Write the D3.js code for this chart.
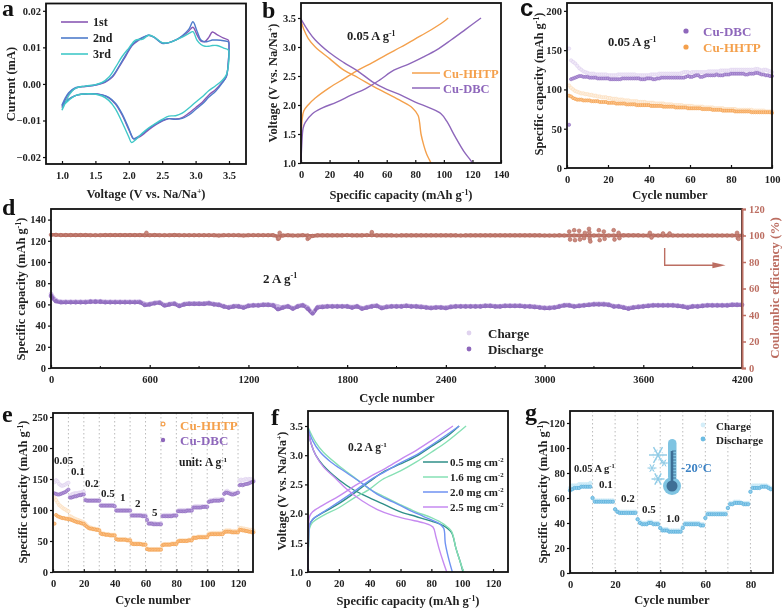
<!DOCTYPE html>
<html><head><meta charset="utf-8">
<script src="https://cdn.jsdelivr.net/npm/d3@7"></script>
<style>
html,body{margin:0;padding:0;background:#fff}
svg{display:block;filter:blur(0.45px)}
text{font-family:"Liberation Serif",serif;font-weight:bold;fill:#222}
</style></head><body><svg id="c" width="783" height="609"></svg>
<script>
// ---------- panel a: cyclic voltammetry ----------
const cvVolt1=[1,1.05,1.1,1.2,1.35,1.5,1.65,1.75,1.85,1.95,2.05,2.15,2.25,2.3,2.38,2.5,2.6,2.7,2.8,2.9,2.96,3.02,3.08,3.14,3.2,3.25,3.32,3.42,3.49,3.5,3.49,3.46,3.4,3.3,3.2,3.1,3,2.9,2.8,2.7,2.6,2.5,2.4,2.3,2.2,2.1,2.07,2,1.9,1.8,1.7,1.6,1.4,1.2,1.1,1.03,1];
const cvCur1=[-.006,-.0043,-.0028,-.0012,-.0007,-.0003,.0005,.0018,.0045,.0075,.0105,.012,.013,.0133,.0128,.0112,.0113,.012,.013,.0145,.0155,.0135,.0117,.0116,.0128,.0142,.0135,.0125,.012,.01,.006,.002,.0005,-.0015,-.003,-.005,-.0065,-.008,-.0092,-.0096,-.0095,-.0102,-.0112,-.0125,-.014,-.015,-.015,-.0125,-.0085,-.0055,-.0038,-.003,-.0027,-.0032,-.0042,-.0055,-.0065];
const cvVolt2=[1,1.05,1.1,1.2,1.35,1.5,1.65,1.75,1.85,1.95,2.05,2.15,2.25,2.3,2.38,2.5,2.6,2.7,2.8,2.9,2.96,3.02,3.08,3.14,3.2,3.25,3.32,3.42,3.49,3.5,3.49,3.46,3.4,3.3,3.2,3.1,3,2.9,2.8,2.7,2.6,2.5,2.4,2.3,2.2,2.1,2.07,2,1.9,1.8,1.7,1.6,1.4,1.2,1.1,1.03,1];
const cvCur2=[-.0058,-.0038,-.0024,-.001,-.0006,-.0003,.0006,.002,.0047,.0078,.0107,.0122,.0131,.0133,.0127,.0111,.0113,.012,.0132,.015,.017,.0145,.012,.0115,.0117,.012,.012,.0118,.0115,.0095,.006,.002,.0003,-.002,-.0036,-.0055,-.007,-.0085,-.0094,-.0097,-.0095,-.01,-.011,-.0122,-.0137,-.0148,-.015,-.0122,-.0082,-.0053,-.0037,-.003,-.0027,-.0032,-.0042,-.0052,-.0062];
const cvVolt3=[1,1.05,1.1,1.2,1.35,1.5,1.6,1.7,1.8,1.9,2,2.1,2.2,2.3,2.38,2.5,2.6,2.7,2.8,2.9,2.96,3.02,3.08,3.14,3.2,3.25,3.32,3.42,3.49,3.5,3.49,3.46,3.4,3.3,3.2,3.1,3,2.9,2.8,2.7,2.6,2.5,2.4,2.3,2.2,2.1,2.04,2,1.9,1.8,1.7,1.6,1.4,1.2,1.1,1.03,1];
const cvCur3=[-.0072,-.0052,-.0032,-.0012,-.0006,-.0002,.0004,.0018,.0045,.0075,.0098,.012,.0122,.0133,.0128,.0113,.0113,.012,.0128,.0138,.0143,.012,.0108,.0103,.0103,.0105,.0105,.0098,.0093,.0085,.005,.0025,.001,-.0005,-.0018,-.0035,-.005,-.0066,-.008,-.0087,-.0088,-.0097,-.0108,-.012,-.0135,-.0153,-.016,-.0145,-.0105,-.0068,-.0045,-.0033,-.0027,-.0032,-.0045,-.0058,-.0072];
// ---------- panel b: charge/discharge ----------
const hhtpChgQ=[0,.3,.8,2,5,10,20,30,40,50,60,70,80,90,100,103];
const hhtpChgV=[1,1.5,1.75,1.9,2,2.12,2.3,2.45,2.6,2.73,2.87,3,3.14,3.28,3.44,3.5];
const hhtpDisQ=[0,2,5,10,20,30,40,50,60,70,78,82,83,84,86,88,90,91];
const hhtpDisV=[3.45,3.3,3.15,3,2.8,2.6,2.47,2.33,2.2,2.07,1.95,1.82,1.7,1.5,1.3,1.15,1.05,1];
const dbcChgQ=[0,.5,1.5,3,8,15,25,35,45,55,65,75,85,95,105,115,126];
const dbcChgV=[1,1.3,1.6,1.7,1.85,1.95,2.05,2.17,2.28,2.43,2.6,2.7,2.82,2.95,3.12,3.3,3.5];
const dbcDisQ=[0,5,10,20,30,40,50,60,70,80,90,98,102,108,114,118,120];
const dbcDisV=[3.48,3.28,3.12,2.9,2.73,2.58,2.4,2.27,2.17,2.05,1.95,1.85,1.72,1.45,1.2,1.07,1];
// ---------- panel c: cycling at 0.05 A/g (cycles 1..100) ----------
const cDbcCharge=[152,137,135,133,130,127,125,123,122,121,120,120,120,119,119,119,119,119,119,118,118,118,118,118,119,119,119,119,119,119,119,119,119,118,118,118,118,118,118,118,119,119,119,119,120,120,120,120,120,120,120,120,120,120,120,121,122,122,122,121,122,122,122,122,122,122,122,122,123,123,123,123,123,123,124,124,124,124,124,125,125,125,125,125,125,125,125,125,125,125,125,126,126,125,124,125,125,124,123,122];
const cDbcDischarge=[55,113,114,115,116,117,117,116,116,116,115,115,115,115,114,114,114,114,114,114,113,113,113,113,113,113,114,114,114,114,114,114,114,114,114,113,113,113,114,114,114,113,113,114,114,115,115,115,115,115,115,115,115,115,115,115,115,116,117,116,116,117,118,118,116,116,117,118,118,118,118,118,119,118,118,118,119,119,119,120,120,120,120,120,120,120,119,119,120,120,120,121,121,120,119,119,118,118,117,117];
const cHhtpCharge=[105,102,100,98,97,96,95,95,94,94,93,93,92,92,91,91,90,90,90,89,89,88,88,88,87,87,87,86,86,86,85,85,85,85,84,84,84,84,83,83,83,83,82,82,82,82,82,81,81,81,81,80,80,80,80,80,79,79,79,79,79,78,78,78,78,78,77,77,77,77,77,76,76,76,76,76,75,75,75,75,75,75,74,74,74,74,74,74,74,74,73,73,73,73,73,73,72,72,72,72];
const cHhtpDischarge=[92,91,89,88,87,87,87,86,86,86,86,85,85,85,85,84,84,84,84,83,83,83,83,82,82,82,82,82,81,81,81,81,81,80,80,80,80,80,80,80,79,79,79,79,79,79,78,78,78,78,78,78,77,77,77,77,77,77,76,76,76,76,76,76,76,75,75,75,75,75,74,74,74,74,74,73,73,73,73,73,73,72,72,72,72,72,72,72,72,71,71,71,71,71,71,71,71,71,71,70];
// ---------- panel d: long-term cycling (sampled every 30 cycles) ----------
const dDischarge=[68,63,62,62,62,62,62,62,62.5,62.5,62.5,62,62,62,62,62,62,62,62,59.5,60,61,61.5,59,60,60.5,58.5,60,60.5,60.5,60.5,60.5,61,60,59.5,58,57,58,58,57,58.5,59,59,59.5,59.5,59,55.5,57,58,56,58,59,56,51.5,57,57.5,58,58,58,58,58,57,58,56,57,58,58.5,56.5,57.5,58,58,58,58.5,58,58,57.5,57,56.5,57,57,56.5,57.5,58,58,58,58,58,58,58.5,58.5,58,58,58.5,58.5,58.5,58.5,58,58,57.5,57,56.5,56.5,57,58,59,59,58,58.5,59,59.5,60,60,60,59.5,58,58,57,56,57,57.5,58,58.5,59,59,59,59,59,58.5,58,57,58,58,58.5,59,59,59,59,59,59.5,59.5,59.5];
const dCharge=[70,64,62.5,62.5,62.5,62.5,62.5,62.5,63,63,63,62.5,62.5,62.5,62.5,62.5,62.5,62.5,62.5,60.5,60.5,61.5,62,59.5,60.5,61,59,60.5,61,61,61,61,61.5,60.5,60,58.5,57.5,58.5,58.5,57.5,59,59.5,59.5,60,60,59.5,58,57.5,58.5,56.5,58.5,59.5,57,52.5,57.5,58,58.5,58.5,58.5,58.5,58.5,57.5,58.5,56.5,57.5,58.5,59,57,58,58.5,58.5,58.5,59,58.5,58.5,58,57.5,57,57.5,57.5,57,58,58.5,58.5,58.5,58.5,58.5,58.5,59,59,58.5,58.5,59,59,59,59,58.5,58.5,58,57.5,57,57,57.5,58.5,59.5,59.5,58.5,59,59.5,60,60.5,60.5,60.5,60,58.5,58.5,57.5,56.5,57.5,58,58.5,59,59.5,59.5,59.5,59.5,59.5,59,58.5,57.5,58.5,58.5,59,59.5,59.5,59.5,59.5,59.5,60,60,60];
const dEfficiency=[100.5,100.5,100.3,100.3,100.3,100.3,100.3,100.3,100.2,100.2,100.2,100.3,100.3,100.3,100.3,100.3,100.3,100.3,100.3,100.2,100.2,100.3,100.2,100.2,100.2,100.3,100.2,100.2,100.2,100.2,100.2,100.2,100.2,100.2,100,100.2,100.2,100.2,100.2,100,100.2,100.2,100.2,100.2,100.2,100.2,99.3,100,100.2,100,100,100.2,100,99.7,100.1,100.1,100.1,100.1,100.1,100.1,100.2,100.1,100.1,100.1,100.2,100.2,100.1,100.1,100.1,100.1,100,100.1,100.1,100.1,100.1,100.1,100.1,100.1,100.1,100.1,100.1,100.1,100.1,100,100.1,100.1,100.1,100.1,100.1,100.1,100.1,100.1,100.1,100.1,100.1,100.1,100.1,100.1,100.1,100.1,100,100,100,100.1,100,100,100,100,100,100,100,100,100,100,100,100.1,100.1,100.1,100.1,100.1,100,100,100,100,100,100,100,100,100,100,100,100,100,100,100,100,100,100,100,100,100];
const dOutCycle=[580,1380,1385,1390,1560,1570,1950,3150,3155,3180,3185,3210,3215,3240,3245,3270,3272,3275,3278,3330,3335,3360,3365,3420,3425,3450,3455,3640,3650,3720,3760,4170,4175,4180];
const dOutValue=[102,97.5,98,102,97.5,98.5,102.5,103,97,104,96.5,103.5,97,98,102,105,102.5,97.5,95.5,104,96.5,103,97.5,104,97,102,98,102,98.5,101.5,101.5,102,98,97.5];
// ---------- panel e: rate capability (cycles 1..130) ----------
const eDbcCharge=[145,148,146,142,140,139,140,141,143,144,123,125,126,127,127,127,128,128,129,129,117,116,116,116,116,116,116,116,116,116,109,108,108,108,108,108,108,108,108,107,101,100,100,100,100,100,100,100,100,100,93,92,92,92,92,92,92,92,92,92,86,80,79,79,79,79,78,78,78,79,91,92,92,92,92,92,92,92,92,92,99,100,100,100,100,100,100,100,100,100,105,106,106,106,106,106,106,106,106,106,114,116,116,116,117,117,117,117,117,118,127,130,131,129,128,127,127,127,128,129,148,149,148,149,150,149,150,150,149,148];
const eDbcDischarge=[127,126,125,125,126,127,128,129,131,133,120,120,121,122,122,123,124,124,125,125,116,115,115,115,115,115,115,115,115,115,107,107,107,107,107,107,107,107,107,106,99,99,99,99,99,99,99,99,99,99,91,91,91,91,91,91,91,90,90,90,84,78,78,78,77,77,77,77,77,77,90,90,90,90,90,90,90,91,91,91,98,98,98,98,98,98,99,99,99,99,104,104,104,104,104,104,105,105,105,105,113,114,114,115,115,115,115,115,116,116,126,128,128,127,126,125,125,126,127,128,140,141,140,141,142,142,143,144,145,146];
const eHhtpCharge=[120,116,112,108,106,104,102,101,99,98,90,89,87,86,85,84,83,82,81,80,78,75,73,72,71,70,70,69,69,68,63,62,62,61,61,61,60,60,60,60,54,53,53,53,53,53,53,52,52,52,47,46,46,46,46,46,45,45,45,45,38,37,37,37,37,37,37,37,37,37,44,45,45,45,45,45,46,46,46,46,50,51,51,51,51,51,51,52,52,52,56,56,56,57,57,57,57,57,57,57,62,62,63,63,63,63,63,63,63,63,66,67,67,67,67,66,66,66,66,66,71,71,70,70,69,69,68,68,68,67];
const eHhtpDischarge=[78,92,90,89,88,87,87,86,86,85,85,84,83,82,81,80,80,79,78,78,75,73,71,70,70,69,69,68,68,67,62,61,61,60,60,60,59,59,59,59,53,52,52,52,52,52,52,51,51,51,46,45,45,45,45,45,45,44,44,44,37,36,36,36,36,36,36,36,36,36,43,44,44,44,44,44,45,45,45,45,49,50,50,50,50,50,50,51,51,51,55,55,55,56,56,56,56,56,56,56,60,61,61,61,61,61,61,61,61,61,64,65,65,65,65,64,64,64,64,64,68,68,67,67,66,66,65,65,64,64];
// ---------- panel f: mass loadings ----------
const f05ChgQ=[0,.3,1,3,10,20,30,40,50,60,70,80,90,98];
const f05ChgV=[1,1.5,1.8,1.9,2.02,2.17,2.35,2.55,2.73,2.85,2.98,3.15,3.32,3.5];
const f05DisQ=[0,2,5,10,20,30,40,50,60,70,80,88,93,96,99,100.5];
const f05DisV=[3.45,3.2,3,2.82,2.58,2.4,2.27,2.15,2.03,1.95,1.87,1.79,1.68,1.4,1.15,1];
const f16ChgQ=[0,.3,1,3,10,20,30,40,48,60,70,80,90,102.5];
const f16ChgV=[1,1.4,1.75,1.85,1.97,2.1,2.27,2.42,2.58,2.73,2.88,3.05,3.23,3.5];
const f16DisQ=[0,5,10,20,30,40,50,60,70,80,88,93,96,99,101];
const f16DisV=[3.48,3.22,3.05,2.82,2.62,2.42,2.28,2.15,2.03,1.93,1.82,1.7,1.4,1.15,1];
const f20ChgQ=[0,.3,1,3,10,20,30,40,50,60,70,80,90,98];
const f20ChgV=[1,1.5,1.8,1.9,2.03,2.2,2.38,2.57,2.72,2.87,3,3.17,3.35,3.5];
const f20DisQ=[0,3,8,15,25,35,45,55,65,75,85,88,89,91,93.6];
const f20DisV=[3.46,3.25,3.05,2.88,2.7,2.52,2.33,2.2,2.07,1.95,1.83,1.75,1.5,1.25,1];
const f25ChgQ=[0,.3,1,3,10,20,30,40,50,60,70,80,94];
const f25ChgV=[1,1.6,1.95,2.03,2.15,2.3,2.47,2.63,2.77,2.93,3.08,3.25,3.5];
const f25DisQ=[0,2,5,10,18,25,35,45,55,65,75,81,83,85,88,90];
const f25DisV=[3.42,3.2,3,2.8,2.6,2.42,2.22,2.07,1.97,1.9,1.84,1.77,1.6,1.4,1.15,1];
// ---------- panel g: rate at -20 C (cycles 0..89) ----------
const gCharge=[68,70,70,70,71,71,71,71,71,72,60,58,58,58,58,58,58,58,58,58,51,49,49,49,49,49,49,49,49,49,43,41,40,40,40,41,41,40,40,40,36,35,35,35,34,34,34,34,34,34,37,40,40,40,40,40,40,40,39,39,44,48,48,48,48,48,48,48,48,48,52,56,56,57,57,57,56,56,56,56,65,70,70,70,70,70,70,70,69,68];
const gDischarge=[66,67,68,68,68,69,69,69,69,69,60,57,57,57,57,57,57,57,57,57,51,49,48,48,48,48,48,48,48,48,43,40,39,39,39,40,40,39,39,39,36,34,34,34,33,33,33,33,33,33,36,39,39,39,39,39,39,39,38,38,44,47,47,47,47,47,47,47,47,47,52,55,55,56,56,56,56,55,55,55,65,68,68,68,68,69,69,69,68,67];
// tick labels
const aXTicks=[1,1.5,2,2.5,3,3.5], aYTicks=[-.02,-.01,0,.01,.02];
const vTicks=[1,1.5,2,2.5,3,3.5];
const rates=["0.05","0.1","0.2","0.5","1","2","5"];

const COL={purple:"#8e67bb",orange:"#f4a04c",red:"#bc6e62",
  a1:"#8a58b4",a2:"#4f7ccb",a3:"#41c8c8",
  f1:"#2f8f88",f2:"#86e0b4",f3:"#6f92f2",f4:"#c68af0"};

const svg=d3.select("#c");

function panel(o){
  const x=d3.scaleLinear().domain(o.xd).range([o.l,o.r]);
  const y=d3.scaleLinear().domain(o.yd).range([o.b,o.t]);
  const g=svg.append("g");
  const ax=d3.axisBottom(x).tickValues(o.xt).tickFormat(o.xf||(d=>d)).tickSize(3).tickPadding(5);
  const ay=d3.axisLeft(y).tickValues(o.yt).tickFormat(o.yf||(d=>d)).tickSize(3).tickPadding(2);
  const gx=g.append("g").attr("transform",`translate(0,${o.b})`).call(ax);
  gx.selectAll("line").attr("y2",-3);
  const gy=g.append("g").attr("transform",`translate(${o.l},0)`).call(ay);
  [gx,gy].forEach(s=>{s.selectAll("text").style("font-size","10.5px").style("font-family",'"Liberation Serif",serif').style("font-weight","bold").attr("fill","#222");
    s.selectAll(".tick line").attr("stroke","#111").attr("stroke-width",1.2);s.select(".domain").remove();});
  if(o.grid) g.selectAll(".gl").data(o.grid).join("line").attr("x1",d=>x(d)).attr("x2",d=>x(d)).attr("y1",o.t).attr("y2",o.b)
     .attr("stroke","#a9a9a9").attr("stroke-width",.8).attr("stroke-dasharray","1.5 2.5");
  const marks=g.append("g");
  g.append("rect").attr("x",o.l).attr("y",o.t).attr("width",o.r-o.l).attr("height",o.b-o.t)
    .attr("fill","none").attr("stroke","#111").attr("stroke-width",1.8);
  return {x,y,g,marks};
}
// text with optional superscript: base, sup, tail, all in one element
function rich(sel,base,sp,tail,size){
  sel.append("tspan").text(base);
  if(sp){sel.append("tspan").attr("dy",-size*.36).attr("font-size",size*.62).text(sp);
    if(tail) sel.append("tspan").attr("dy",size*.36).text(tail);}
  return sel;
}
function title(t,x,y,rot,size=12.5,col,sp,tail){
  const s=svg.append("text").attr("text-anchor","middle").attr("font-size",size);
  if(rot) s.attr("transform",`translate(${x},${y}) rotate(-90)`); else s.attr("x",x).attr("y",y);
  if(col) s.style("fill",col);
  return rich(s,t,sp,tail,size);
}
function label(t,x,y,size=11,col,sp){
  const s=svg.append("text").attr("x",x).attr("y",y).attr("font-size",size);
  if(col) s.style("fill",col);
  return rich(s,t,sp,null,size);
}
function letter(t,x,y,fam){const s=label(t,x,y,24,"#111");if(fam)s.style("font-family",fam);}
function curve(p,xs,ys,col,w=1.4){
  p.marks.append("path").attr("fill","none").attr("stroke",col).attr("stroke-width",w)
   .attr("d",d3.line().x((d,i)=>p.x(xs[i])).y((d,i)=>p.y(ys[i])).curve(d3.curveCatmullRom.alpha(.5))(xs));
}
function dots(p,xs,ys,fill,stroke,r,sw=.6){
  p.marks.append("g").selectAll("circle").data(xs).join("circle")
   .attr("cx",d=>p.x(d)).attr("cy",(d,i)=>p.y(ys[i])).attr("r",r)
   .attr("fill",fill).attr("stroke",stroke).attr("stroke-width",sw);
}
const idx1=a=>a.map((d,i)=>i+1), idx0=a=>a.map((d,i)=>i);
const pale={p:["#efe8f7","#ddd0ee"],o:["#fef0e0","#fbdcb9"]};
const full={p:["#b59adb","#8c66bb"],o:["#fcc48c","#f29a44"]};

// ---- a
const A=panel({l:46,r:246,t:3.5,b:164,xd:[1-16/66.8,3.5+17/66.8],yd:[-.0219,.022],xt:aXTicks,yt:aYTicks,xf:d3.format(".1f"),yf:d3.format(".2f")});
[[cvVolt1,cvCur1,COL.a1],[cvVolt2,cvCur2,COL.a2],[cvVolt3,cvCur3,COL.a3]].forEach(c=>curve(A,c[0],c[1],c[2]));
[["1st",22,COL.a1],["2nd",38,COL.a2],["3rd",54,COL.a3]].forEach(l=>{
  svg.append("line").attr("x1",61).attr("x2",88).attr("y1",l[1]).attr("y2",l[1]).attr("stroke",l[2]).attr("stroke-width",1.6);
  label(l[0],93,l[1]+4,12);});
title("Voltage (V vs. Na/Na",146,198,false,12.5,null,"+",")");
title("Current (mA)",15,84,true);
letter("a",2,16);

// ---- b
const B=panel({l:301,r:501,t:3,b:163,xd:[0,140],yd:[1,3.5+15/58],xt:d3.range(0,141,20),yt:vTicks,yf:d3.format(".1f")});
curve(B,hhtpChgQ,hhtpChgV,COL.orange);curve(B,hhtpDisQ,hhtpDisV,COL.orange);
curve(B,dbcChgQ,dbcChgV,COL.purple);curve(B,dbcDisQ,dbcDisV,COL.purple);
[["Cu-HHTP",73,COL.orange],["Cu-DBC",88,COL.purple]].forEach(l=>{
  svg.append("line").attr("x1",412).attr("x2",440).attr("y1",l[1]).attr("y2",l[1]).attr("stroke",l[2]).attr("stroke-width",1.5);
  label(l[0],443,l[1]+4.5,12.5,l[2]);});
label("0.05 A g",347,40,12.5,null,"-1");
title("Specific capacity (mAh g",401,199,false,12.5,null,"-1",")");
title("Voltage (V vs. Na/Na",277,83,true,12.5,null,"+",")");
letter("b",262,18);

// ---- c
const C=panel({l:567,r:772,t:3,b:168,xd:[0,100],yd:[0,210],xt:d3.range(0,101,20),yt:d3.range(0,201,50)});
dots(C,idx1(cDbcCharge),cDbcCharge,pale.p[0],pale.p[1],1.7);
dots(C,idx1(cHhtpCharge),cHhtpCharge,pale.o[0],pale.o[1],1.7);
dots(C,idx1(cDbcDischarge),cDbcDischarge,full.p[0],full.p[1],1.6);
dots(C,idx1(cHhtpDischarge),cHhtpDischarge,full.o[0],full.o[1],1.6);
svg.append("circle").attr("cx",686).attr("cy",31).attr("r",2.6).attr("fill",COL.purple);
svg.append("circle").attr("cx",686).attr("cy",47).attr("r",2.6).attr("fill",COL.orange);
label("Cu-DBC",703,36,13,COL.purple);label("Cu-HHTP",703,52,13,COL.orange);
label("0.05 A g",608,46,12.5,null,"-1");
title("Cycle number",670,199);
title("Specific capacity (mAh g",543,84,true,12.5,null,"-1",")");
letter("c",520,16,'"Liberation Sans",sans-serif');

// ---- d
const D=panel({l:51,r:742,t:209,b:368,xd:[0,4200],yd:[0,150],xt:d3.range(0,4201,600),yt:d3.range(0,141,20)});
const dCyc=dDischarge.map((d,i)=>i*4200/(dDischarge.length-1));
const yCE=d3.scaleLinear().domain([0,120]).range([368,209]);
const dCE={x:D.x,y:yCE,marks:D.marks};
D.g.append("g").selectAll("line").data(d3.range(300,4200,600)).join("line")
 .attr("x1",d=>D.x(d)).attr("x2",d=>D.x(d)).attr("y1",368).attr("y2",366).attr("stroke","#111");
curve(D,dCyc,dCharge,"#cdb9e6",4);
curve(D,dCyc,dDischarge,COL.purple,3.6);
dots(D,dCyc,dCharge,"#c9b4e4","#c9b4e4",1.9);
dots(D,dCyc,dDischarge,"#9472c2","#8a64bb",1.9);
curve(dCE,dCyc,dEfficiency,"#bd7366",3.6);
dots(dCE,dCyc,dEfficiency,"#c07c70","#b4675b",1.8);
dots(dCE,dOutCycle,dOutValue,"#c98a7e","#b4675b",1.9);
const gr=svg.append("g").attr("transform","translate(742,0)").call(d3.axisRight(yCE).tickValues(d3.range(0,121,20)).tickSize(4).tickPadding(3));
gr.select(".domain").attr("stroke",COL.red).attr("stroke-width",2);
gr.selectAll("line").attr("stroke",COL.red).attr("stroke-width",1.5);
gr.selectAll("text").style("font-size","10.5px").style("font-family",'"Liberation Serif",serif').style("font-weight","bold").style("fill",COL.red);
const arrowPts=[[3730,90.5],[3730,77.5],[4030,77.5]];
svg.append("path").attr("fill","none").attr("stroke",COL.red).attr("stroke-width",1.4)
  .attr("d",d3.line().x(d=>D.x(d[0])).y(d=>yCE(d[1]))(arrowPts));
svg.append("path").attr("fill",COL.red).attr("d",`M${D.x(4020)},${yCE(77.5)-3}L${D.x(4100)},${yCE(77.5)}L${D.x(4020)},${yCE(77.5)+3}Z`);
label("2 A g",263,283,13,null,"-1");
svg.append("circle").attr("cx",469).attr("cy",333).attr("r",2.4).attr("fill","#e0d3ef");
svg.append("circle").attr("cx",469).attr("cy",349).attr("r",2.4).attr("fill",COL.purple);
label("Charge",488,338,13);label("Discharge",488,354,13);
title("Cycle number",397,402);
title("Specific capacity (mAh g",25,289,true,12.5,null,"-1",")");
title("Coulombic efficiency (%)",779,288,true,13,COL.red);
letter("d",2,215);

// ---- e
const eRates=d3.range(10,121,10);
const P5=panel({l:53,r:253,t:413,b:572,xd:[0,129.7],yd:[0,256.5],xt:d3.range(0,121,20),yt:d3.range(0,251,50),grid:eRates});
dots(P5,idx1(eDbcCharge),eDbcCharge,pale.p[0],pale.p[1],1.7);
dots(P5,idx1(eHhtpCharge),eHhtpCharge,pale.o[0],pale.o[1],1.7);
dots(P5,idx1(eDbcDischarge),eDbcDischarge,full.p[0],full.p[1],1.6);
dots(P5,idx1(eHhtpDischarge),eHhtpDischarge,full.o[0],full.o[1],1.6);
svg.append("circle").attr("cx",163).attr("cy",424).attr("r",1.9).attr("fill","#fff").attr("stroke",COL.orange).attr("stroke-width",1.2);
svg.append("circle").attr("cx",163).attr("cy",440).attr("r",2.2).attr("fill",COL.purple);
label("Cu-HHTP",180,430,13,COL.orange);label("Cu-DBC",180,445,13,COL.purple);
label("unit: A g",179,466,11.5,null,"-1");
const eLabX=[54,71,85,101,120,135,152],eLabY=[464,475,487,497,501,507,516];
rates.forEach((r,i)=>label(r,eLabX[i],eLabY[i],11));
title("Cycle number",153,604);
title("Specific capacity (mAh g",27,492,true,12.5,null,"-1",")");
letter("e",2,422);

// ---- f
const F=panel({l:308,r:508,t:411,b:572,xd:[0,129.7],yd:[1,3.5+15/58.4],xt:d3.range(0,121,20),yt:vTicks,yf:d3.format(".1f")});
[[f05ChgQ,f05ChgV,f05DisQ,f05DisV,COL.f1],[f16ChgQ,f16ChgV,f16DisQ,f16DisV,COL.f2],[f20ChgQ,f20ChgV,f20DisQ,f20DisV,COL.f3],[f25ChgQ,f25ChgV,f25DisQ,f25DisV,COL.f4]].forEach(c=>{curve(F,c[0],c[1],c[4]);curve(F,c[2],c[3],c[4]);});
const fLeg=["0.5 mg cm","1.6 mg cm","2.0 mg cm","2.5 mg cm"],fCol=[COL.f1,COL.f2,COL.f3,COL.f4];
fLeg.forEach((t,i)=>{const y=462+15*i;
  svg.append("line").attr("x1",423).attr("x2",448).attr("y1",y).attr("y2",y).attr("stroke",fCol[i]).attr("stroke-width",1.5);
  label(t,450,y+3.5,11,null,"-2");});
label("0.2 A g",348,451,11.5,null,"-1");
title("Specific capacity (mAh g",408,605,false,12.5,null,"-1",")");
title("Voltage (V vs. Na/Na",286,491,true,12.5,null,"+",")");
letter("f",271,425);

// ---- g
const G=panel({l:570,r:773,t:411,b:573,xd:[0,90],yd:[0,129.6],xt:d3.range(0,81,20),yt:d3.range(0,121,20),grid:d3.range(10,81,10)});
dots(G,idx0(gCharge),gCharge,"#d4eef9","#c3e5f5",1.8);
dots(G,idx0(gDischarge),gDischarge,"#8ccbea","#4fa9d8",1.7);
svg.append("circle").attr("cx",703).attr("cy",425).attr("r",2.4).attr("fill","#d4eef9");
svg.append("circle").attr("cx",703).attr("cy",439).attr("r",2.4).attr("fill","#6cbce3");
label("Charge",716,430,11);label("Discharge",716,444,11);
label("0.05 A g",574,472,10.5,null,"-1");
const gLab=["0.1","0.2","0.5","1.0"],gLabX=[599,621,642,666],gLabY=[488,502,513,522];
gLab.forEach((t,i)=>label(t,gLabX[i],gLabY[i],11));
label("-20°C",681,472,12.5,"#3c82c4");
// thermometer icon
const ic=svg.append("g");
ic.append("rect").attr("x",668).attr("y",439).attr("width",8.5).attr("height",42).attr("rx",4.2).attr("fill","#7fc4e2");
ic.append("circle").attr("cx",672).attr("cy",486).attr("r",9).attr("fill","#7fc4e2");
ic.append("circle").attr("cx",672).attr("cy",486).attr("r",5.5).attr("fill","#3f6f96");
ic.append("rect").attr("x",670.7).attr("y",451).attr("width",2.6).attr("height",30).attr("fill","#3f6f96");
d3.range(451,479,3).forEach(y=>ic.append("line").attr("x1",672).attr("x2",676).attr("y1",y).attr("y2",y).attr("stroke","#3f6f96").attr("stroke-width",.9));
[[658,455,9],[664,463,4],[652,468,4.5],[658,479,6.5]].forEach(f=>{
  d3.range(0,180,60).forEach(a=>{const t=a*Math.PI/180;
    ic.append("line").attr("x1",f[0]-f[2]*Math.cos(t)).attr("x2",f[0]+f[2]*Math.cos(t)).attr("y1",f[1]-f[2]*Math.sin(t)).attr("y2",f[1]+f[2]*Math.sin(t))
     .attr("stroke","#8fcbe6").attr("stroke-width",f[2]>5?1.4:1);});
  ic.append("circle").attr("cx",f[0]).attr("cy",f[1]).attr("r",f[2]*.55).attr("fill","none").attr("stroke","#8fcbe6").attr("stroke-width",.7).attr("stroke-dasharray","1.5 1.5");
});
title("Cycle number",672,604);
title("Specific capacity (mAh g",547,492,true,12.5,null,"-1",")");
letter("g",525,420);
</script></body></html>
